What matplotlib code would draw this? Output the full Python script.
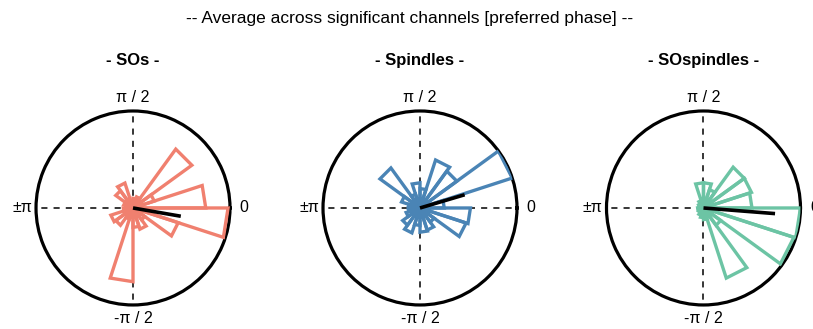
import numpy as np
import matplotlib
matplotlib.use("Agg")
import matplotlib.pyplot as plt

plt.rcParams['font.family'] = ['Liberation Sans', 'DejaVu Sans']

# 20 phase bins of 18 deg, lower edges from -180 to 162
bin_lo = np.arange(-180, 180, 18)

sos_vals = [0.10, 0.24, 0.22, 0.12, 0.76, 0.20, 0.23, 0.15, 0.49, 0.98,
            0.75, 0.23, 0.75, 0.12, 0.10, 0.08, 0.27, 0.22, 0.10, 0.08]
spindle_vals = [0.12, 0.15, 0.22, 0.27, 0.18, 0.25, 0.24, 0.18, 0.50, 0.52,
                0.25, 1.00, 0.47, 0.52, 0.20, 0.26, 0.15, 0.51, 0.20, 0.12]
sospindle_vals = [0.06, 0.05, 0.06, 0.08, 0.10, 0.12, 0.76, 0.22, 0.98, 1.00,
                  0.50, 0.52, 0.52, 0.20, 0.26, 0.26, 0.08, 0.06, 0.05, 0.05]

# mean phase (deg) and resultant length
mean_angle = [-9.8, 16.5, -4.5]
mean_len = [0.50, 0.48, 0.74]

titles = ['- SOs -', '- Spindles -', '- SOspindles -']
colors = ['#F0806F', '#4A84B5', '#6CC4A4']
series = [sos_vals, spindle_vals, sospindle_vals]

fig = plt.figure(figsize=(8.13, 3.29), dpi=100)
fig.text(0.504, 0.945, '-- Average across significant channels [preferred phase] --',
         ha='center', va='center', fontsize=12.5)

lefts = [0.0443, 0.3973, 0.7460]
for i in range(3):
    ax = fig.add_axes([lefts[i], 0.073, 0.2386, 0.5897], projection='polar')
    for lo, r in zip(bin_lo, series[i]):
        t1, t2 = np.deg2rad(lo), np.deg2rad(lo + 18)
        ax.plot([0, t1, t2, 0], [0, r, r, 0], color=colors[i], lw=2.4,
                solid_joinstyle='miter', zorder=3)
    th = np.deg2rad(mean_angle[i])
    ax.plot([th, th], [0, mean_len[i]], color='black', lw=2.6,
            solid_capstyle='butt', zorder=4)
    ax.set_ylim(0, 1)
    ax.set_yticks([])
    ax.set_thetagrids([0, 90, 180, 270], ['0', 'π / 2', '±π', '-π / 2'],
                      fontsize=11.5)
    ax.xaxis.grid(True, color='black', ls=(0, (4, 4)), lw=1.1)
    ax.tick_params(axis='x', pad=3, length=0)
    ax.spines['polar'].set_linewidth(2.3)
    ax.set_title(titles[i], fontsize=12, fontweight='bold', pad=33)

fig.savefig('out.png', dpi=100)
